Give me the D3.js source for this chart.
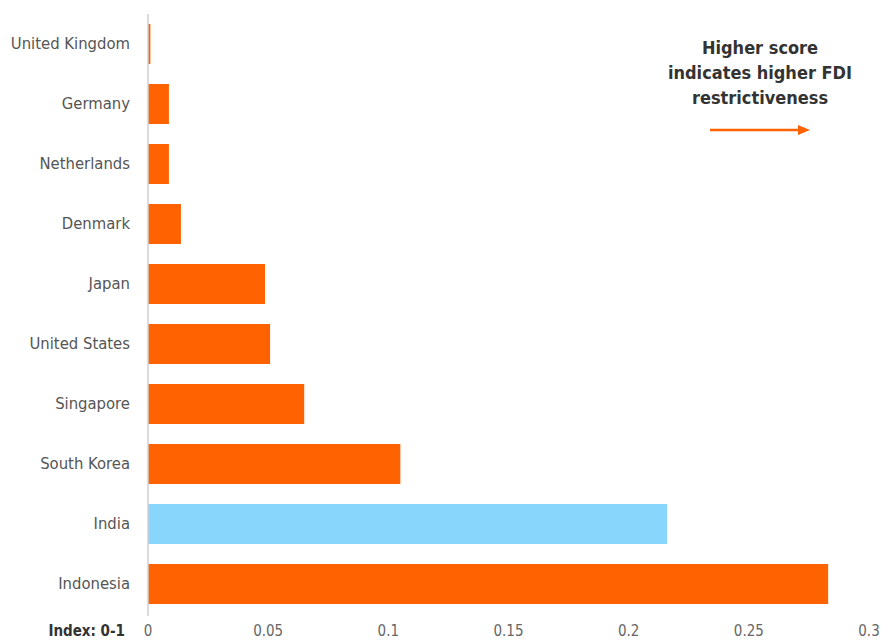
<!DOCTYPE html>
<html><head><meta charset="utf-8">
<script src="https://cdn.jsdelivr.net/npm/d3@7"></script>
<style>body{margin:0;background:#fff;} svg{display:block;font-family:"DejaVu Sans Condensed","Liberation Sans Narrow","Open Sans",sans-serif;}</style>
</head><body>
<script>
const categories = ["United Kingdom","Germany","Netherlands","Denmark","Japan","United States","Singapore","South Korea","India","Indonesia"];
const values = [0.001,0.0087,0.0087,0.0137,0.0487,0.0508,0.065,0.105,0.216,0.283];
const highlight = ["India"];
const xTicks = [0,0.05,0.1,0.15,0.2,0.25,0.3];
const xTickLabels = ["0","0.05","0.1","0.15","0.2","0.25","0.3"];
const axisTitle = "Index: 0-1";
const annotation = ["Higher score","indicates higher FDI","restrictiveness"];

const W=887,H=641;
const svg=d3.select("body").append("svg").attr("width",W).attr("height",H);
const x=d3.scaleLinear().domain([0,0.3]).range([148,869]);
const y=d3.scaleBand().domain(categories).range([14,614]).paddingInner(1/3).paddingOuter(1/6);

svg.selectAll("rect.bar").data(categories).join("rect")
  .attr("x",x(0)).attr("y",d=>y(d)).attr("height",y.bandwidth())
  .attr("width",(d,i)=>x(values[i])-x(0))
  .attr("fill",d=>highlight.includes(d)?"#89D6FD":"#FF6200");

svg.append("line").attr("x1",x(0)).attr("x2",x(0)).attr("y1",14).attr("y2",616)
  .attr("stroke","#d0d0d0").attr("stroke-width",1.5);

svg.selectAll("text.cat").data(categories).join("text")
  .attr("x",130).attr("y",d=>y(d)+y.bandwidth()/2-1).attr("dy","0.35em")
  .attr("text-anchor","end").attr("font-size",16.5).attr("fill","#555").text(d=>d);

svg.selectAll("text.tick").data(xTicks).join("text")
  .attr("x",d=>x(d)).attr("y",636).attr("text-anchor","middle")
  .attr("font-size",15).attr("fill","#666").text((d,i)=>xTickLabels[i]);

svg.append("text").attr("x",125).attr("y",636).attr("text-anchor","end")
  .attr("font-size",15).attr("font-weight","bold").attr("fill","#333").text(axisTitle);

svg.append("text").attr("text-anchor","middle").attr("font-size",18).attr("font-weight","bold").attr("fill","#333")
  .selectAll("tspan").data(annotation).join("tspan")
  .attr("x",760).attr("y",(d,i)=>54+i*25).text(d=>d);

svg.append("line").attr("x1",710).attr("x2",800).attr("y1",130).attr("y2",130)
  .attr("stroke","#FF6200").attr("stroke-width",2.5);
svg.append("path").attr("d","M798,125 L810,130 L798,135 Z").attr("fill","#FF6200");
</script>
</body></html>
